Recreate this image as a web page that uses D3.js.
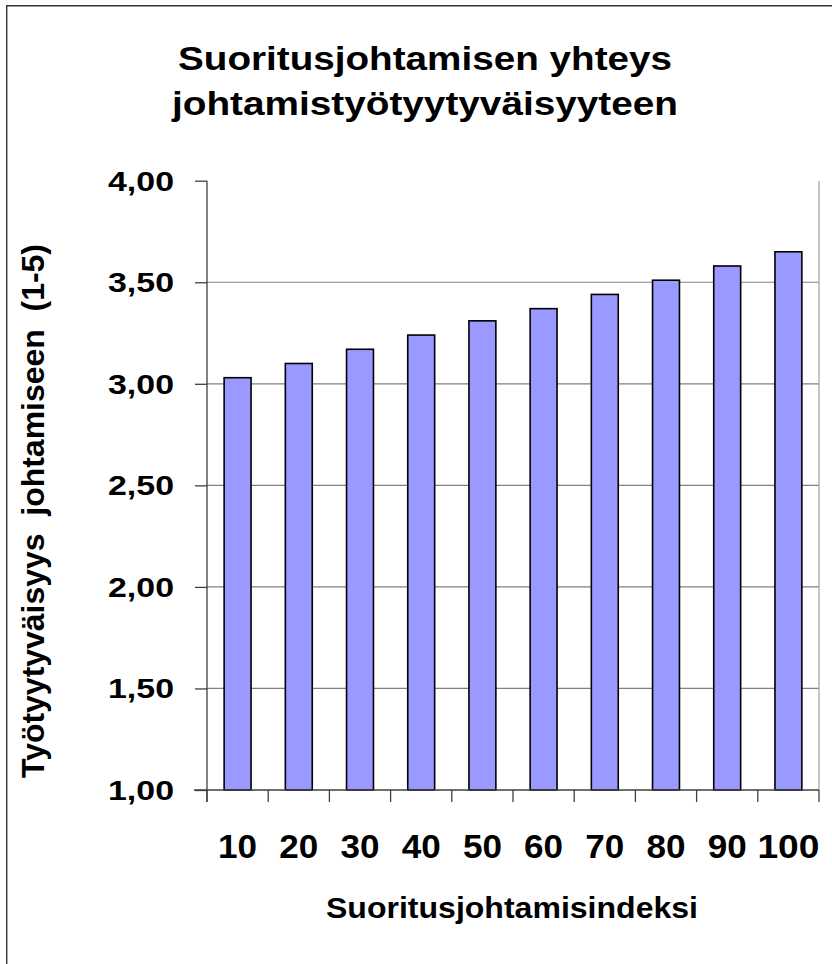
<!DOCTYPE html>
<html>
<head>
<meta charset="utf-8">
<script src="https://cdn.jsdelivr.net/npm/d3@7"></script>
<style>
  html, body { margin: 0; padding: 0; background: #fff; }
  svg { display: block; }
  text { font-family: "Liberation Sans", Arial, sans-serif; font-weight: bold; fill: #000; white-space: pre; }
</style>
</head>
<body>
<svg id="chart" width="832" height="964"></svg>
<script>
// Suoritusjohtamisindeksi categories and the mean satisfaction per category
const categories = ["10", "20", "30", "40", "50", "60", "70", "80", "90", "100"];
const values = [3.03, 3.10, 3.17, 3.24, 3.31, 3.37, 3.44, 3.51, 3.58, 3.65];
const yTicks = [1.0, 1.5, 2.0, 2.5, 3.0, 3.5, 4.0];
const titleLines = ["Suoritusjohtamisen yhteys", "johtamistyötyytyväisyyteen"];
const xTitle = "Suoritusjohtamisindeksi";
const yTitle = "Työtyytyväisyys  johtamiseen  (1-5)";

const svg = d3.select("#chart");
const W = 832, H = 964;
const plot = { left: 207, right: 819, top: 180.7, bottom: 790 };

// outer frame (left and top edges are inside the picture)
svg.append("path")
  .attr("d", `M6.7,${H} L6.7,5.7 L${W},5.7`)
  .attr("fill", "none").attr("stroke", "#333").attr("stroke-width", 1.4);

const x = d3.scaleBand()
  .domain(categories)
  .range([plot.left, plot.right])
  .paddingInner(0.56)
  .paddingOuter(0.28);

const y = d3.scaleLinear().domain([1, 4]).range([plot.bottom, plot.top]);

// horizontal gridlines
svg.append("g")
  .selectAll("line")
  .data(yTicks.filter(t => t > 1 && t < 4))
  .join("line")
  .attr("x1", plot.left).attr("x2", plot.right)
  .attr("y1", d => y(d)).attr("y2", d => y(d))
  .attr("stroke", "#808080").attr("stroke-width", 1.2);

// right edge of the plot area
svg.append("line")
  .attr("x1", plot.right).attr("x2", plot.right)
  .attr("y1", y(4)).attr("y2", plot.bottom)
  .attr("stroke", "#a0a0a0").attr("stroke-width", 1.2);

// bars
svg.append("g")
  .selectAll("rect")
  .data(values)
  .join("rect")
  .attr("x", (d, i) => x(categories[i]))
  .attr("width", x.bandwidth())
  .attr("y", d => y(d))
  .attr("height", d => y(1) - y(d))
  .attr("fill", "#9999FF")
  .attr("stroke", "#000")
  .attr("stroke-width", 1.6);

// y axis
const yAxis = svg.append("g")
  .attr("transform", `translate(${plot.left},0)`)
  .call(d3.axisLeft(y).tickValues(yTicks).tickSize(12).tickPadding(0).tickFormat(() => ""));
yAxis.select(".domain").attr("stroke", "#404040").attr("stroke-width", 1.3)
  .attr("d", `M0,${plot.top}V${plot.bottom + 12}`);
yAxis.selectAll(".tick line").attr("stroke", "#404040").attr("stroke-width", 1.3);

const fmt = v => d3.format(".2f")(v).replace(".", ",");
svg.append("g")
  .selectAll("text")
  .data(yTicks)
  .join("text")
  .attr("x", 174)
  .attr("y", d => y(d) + 10)
  .attr("text-anchor", "end")
  .attr("font-size", 28)
  .attr("textLength", 66)
  .attr("lengthAdjust", "spacingAndGlyphs")
  .text(fmt);

// x axis: ticks sit on band boundaries
const xEdges = d3.range(categories.length + 1).map(i => plot.left + i * x.step());
svg.append("line")
  .attr("x1", plot.left - 13).attr("x2", plot.right)
  .attr("y1", plot.bottom).attr("y2", plot.bottom)
  .attr("stroke", "#404040").attr("stroke-width", 1.3);
svg.append("g")
  .selectAll("line")
  .data(xEdges)
  .join("line")
  .attr("x1", d => d).attr("x2", d => d)
  .attr("y1", plot.bottom).attr("y2", plot.bottom + 12)
  .attr("stroke", "#404040").attr("stroke-width", 1.3);

svg.append("g")
  .selectAll("text")
  .data(categories)
  .join("text")
  .attr("x", d => x(d) + x.bandwidth() / 2)
  .attr("y", 858)
  .attr("text-anchor", "middle")
  .attr("font-size", 34)
  .attr("textLength", d => d.length === 3 ? 62 : 39)
  .attr("lengthAdjust", "spacingAndGlyphs")
  .text(d => d);

// titles
svg.append("g")
  .selectAll("text")
  .data(titleLines)
  .join("text")
  .attr("x", 425)
  .attr("y", (d, i) => 70 + i * 45)
  .attr("text-anchor", "middle")
  .attr("font-size", 33)
  .attr("textLength", (d, i) => i === 0 ? 494 : 506)
  .attr("lengthAdjust", "spacingAndGlyphs")
  .text(d => d);

svg.append("text")
  .attr("x", 512)
  .attr("y", 918)
  .attr("text-anchor", "middle")
  .attr("font-size", 30)
  .attr("textLength", 372)
  .attr("lengthAdjust", "spacingAndGlyphs")
  .text(xTitle);

svg.append("text")
  .attr("transform", "translate(44,511) rotate(-90)")
  .attr("text-anchor", "middle")
  .attr("font-size", 32)
  .attr("textLength", 534)
  .attr("lengthAdjust", "spacingAndGlyphs")
  .text(yTitle);
</script>
</body>
</html>
